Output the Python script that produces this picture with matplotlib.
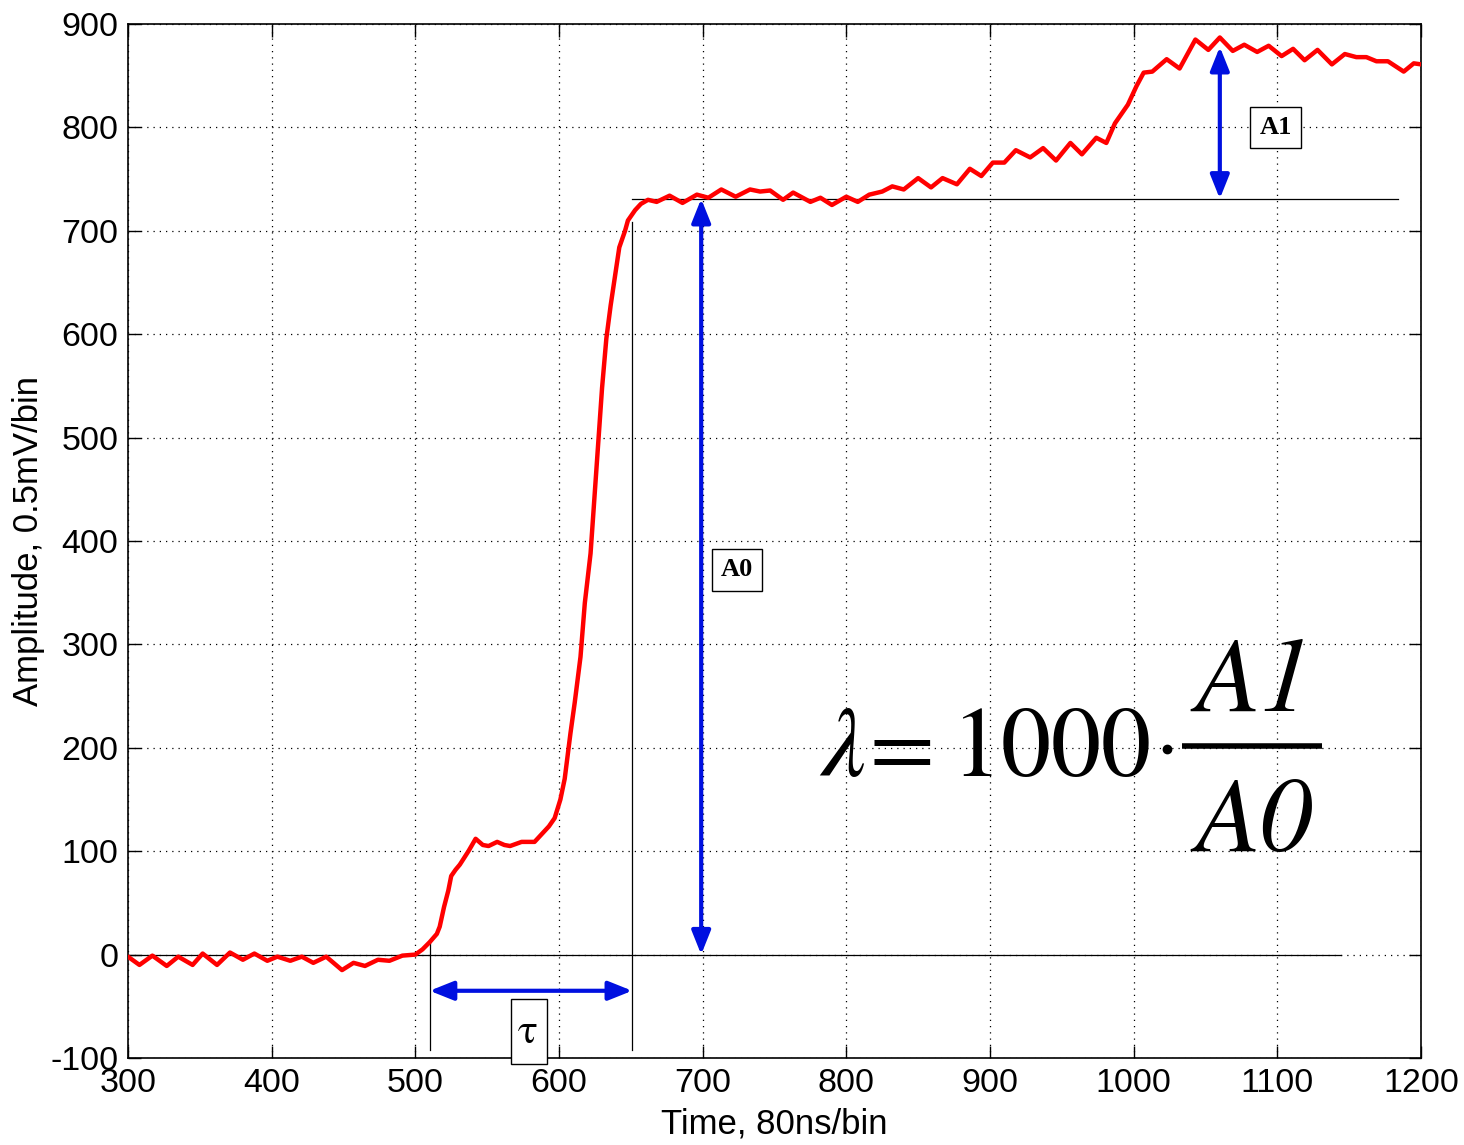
import matplotlib
matplotlib.use("Agg")
import matplotlib.pyplot as plt
from matplotlib.patches import Rectangle

# signal
time = [300, 301, 308, 317, 327, 335, 345, 352, 362, 371, 380, 388, 397, 404, 413,
        421, 429, 438, 449, 457, 465, 474, 482, 491, 500, 505, 510, 515, 517, 520,
        523, 525, 528, 531, 537, 542, 547, 551, 557, 562, 566, 574, 583, 589, 593,
        597, 601, 604, 608, 611, 615, 618, 622, 624, 626, 628, 630, 633, 636, 639,
        642, 646, 648, 653, 657, 662, 668, 677, 686, 696, 704, 713, 723, 733, 740,
        747, 756, 763, 775, 782, 790, 800, 808, 816, 825, 832, 840, 850, 859, 867,
        877, 886, 894, 902, 910, 918, 928, 937, 946, 956, 964, 974, 981, 987, 996,
        1002, 1007, 1013, 1023, 1032, 1043, 1052, 1060, 1069, 1077, 1086, 1094, 1103,
        1111, 1119, 1128, 1138, 1147, 1155, 1162, 1169, 1177, 1188, 1195, 1200]
amplitude = [-2, -3, -10, -1, -11, -2, -10, 1, -10, 2, -5, 1, -6, -2, -6,
             -2, -8, -2, -15, -8, -11, -5, -6, -1, 0, 5, 12, 20, 27, 46,
             62, 76, 82, 87, 100, 112, 106, 105, 109, 106, 105, 109, 109, 118, 124,
             132, 150, 170, 214, 244, 288, 340, 388, 428, 468, 508, 548, 596, 628, 656,
             684, 700, 710, 720, 726, 730, 728, 734, 727, 735, 732, 740, 733, 740, 738,
             739, 730, 737, 728, 732, 725, 733, 728, 735, 738, 743, 740, 751, 742, 751,
             745, 760, 753, 766, 766, 778, 771, 780, 768, 785, 774, 790, 785, 804, 822,
             840, 853, 854, 866, 857, 885, 875, 887, 874, 880, 873, 879, 869,
             876, 865, 875, 861, 871, 868, 868, 864, 864, 854, 862, 861]

# measurement markers
t_start = 510
t_end = 651
a0_level = 731
a0_time = 699
a1_time = 1060
a1_top = 878
base_end = 1144
plateau_end = 1184

plt.rcParams['font.family'] = ['Liberation Sans', 'DejaVu Sans']
plt.rcParams['axes.unicode_minus'] = False

fig = plt.figure(figsize=(14.64, 11.45), dpi=100)
ax = fig.add_axes([0.0874, 0.076, 0.8832, 0.903])

ax.plot(time, amplitude, color='red', lw=3.2, zorder=3,
        solid_joinstyle='round', solid_capstyle='round')

ax.set_xlim(300, 1200)
ax.set_ylim(-100, 900)
ax.set_xticks(range(300, 1201, 100))
ax.set_yticks(range(-100, 901, 100))
ax.grid(True, color='black', linestyle=(0, (1, 4)), lw=0.9)
ax.tick_params(direction='in', length=9, width=1, top=True, right=True,
               labelsize=24.5, pad=7)
for s in ax.spines.values():
    s.set_linewidth(1.2)
ax.set_xlabel('Time, 80ns/bin', fontsize=25, labelpad=6)
ax.set_ylabel('Amplitude, 0.5mV/bin', fontsize=25, labelpad=4)

# thin guide lines
thin = dict(color='black', lw=0.9, zorder=2)
ax.plot([300, base_end], [0, 0], **thin)
ax.plot([t_end, plateau_end], [a0_level, a0_level], **thin)
ax.plot([t_start, t_start], [-92, 12], **thin)
ax.plot([t_end, t_end], [-92, 709], **thin)

arrow = dict(arrowstyle='<|-|>,head_length=0.4,head_width=0.16', color='#0010e0',
             lw=3, shrinkA=0, shrinkB=0, mutation_scale=36)
ax.annotate('', xy=(t_start, -35), xytext=(t_end, -35), arrowprops=arrow, zorder=4)
ax.annotate('', xy=(a0_time, 0), xytext=(a0_time, a0_level), arrowprops=arrow, zorder=4)
ax.annotate('', xy=(a1_time, a0_level), xytext=(a1_time, a1_top), arrowprops=arrow, zorder=4)

box = dict(boxstyle='square,pad=0.35', fc='white', ec='black', lw=1)
ax.text(724, 372, 'A0', family='Liberation Serif', weight='bold', fontsize=19,
        ha='center', va='center', bbox=box, zorder=5)
ax.text(1099, 800, 'A1', family='Liberation Serif', weight='bold', fontsize=19,
        ha='center', va='center', bbox=box, zorder=5)

ax.add_patch(Rectangle((566.6, -106), 24.8, 63.5, fc='white', ec='black', lw=1,
                       clip_on=False, zorder=5))
ax.text(578.5, -76, '\u03c4', family='STIXGeneral', fontsize=30,
        ha='center', va='center', zorder=6)

# formula  lambda = 1000 * A1 / A0
ax.text(781, 173, r'$\lambda$', fontsize=72, ha='left', va='baseline',
        math_fontfamily='stix', zorder=6)
ax.text(838.7, 173, '=', family='STIXGeneral', fontsize=68, ha='center',
        va='baseline', zorder=6)
ax.text(873.5, 173, '1000', family='STIXGeneral', fontsize=72, ha='left',
        va='baseline', zorder=6)
ax.plot([1023.2], [199], 'o', color='black', ms=6, zorder=6)
ax.text(1043, 236, 'A1', family='STIXGeneral', style='italic', fontsize=76,
        ha='left', va='baseline', zorder=6)
ax.text(1043, 100, 'A0', family='STIXGeneral', style='italic', fontsize=76,
        ha='left', va='baseline', zorder=6)
ax.plot([1034, 1131], [202, 202], color='black', lw=4, solid_capstyle='butt', zorder=6)

fig.savefig('out.png', dpi=100)
